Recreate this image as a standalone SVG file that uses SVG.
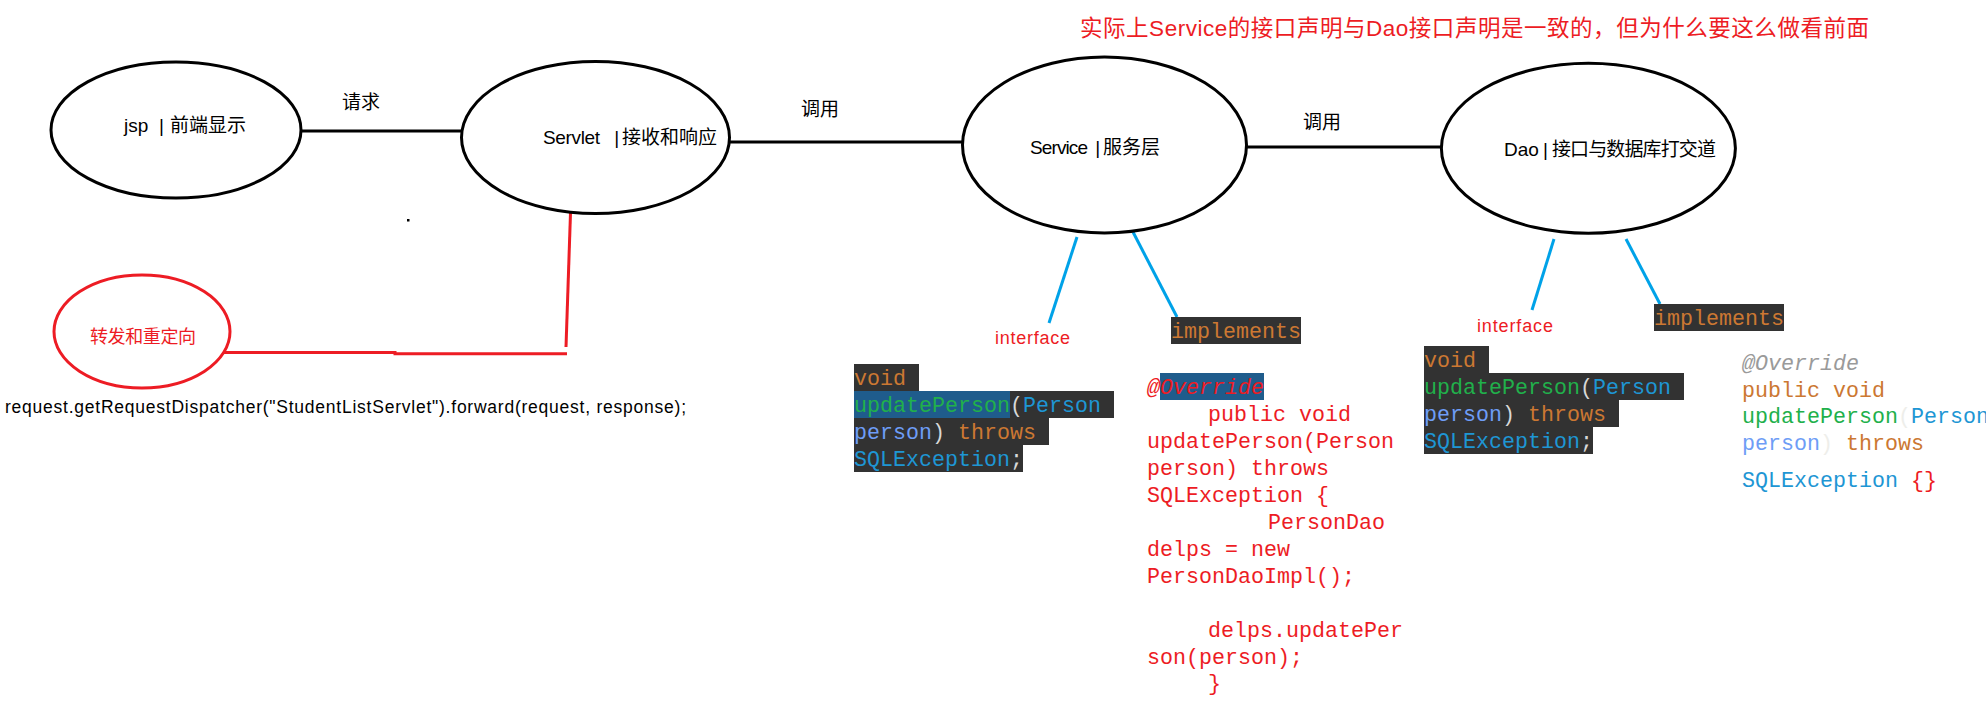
<svg xmlns="http://www.w3.org/2000/svg" width="1986" height="714" viewBox="0 0 1986 714">
<style>
.node{fill:none;stroke:#000;stroke-width:3}
.redn{fill:none;stroke:#ED1C24;stroke-width:3}
.lbl{font-family:"Liberation Sans","Noto Sans CJK SC",sans-serif;font-size:19px;fill:#000}
.rtxt{font-family:"Liberation Sans","Noto Sans CJK SC",sans-serif;font-size:18px;fill:#ED1C24}
.code{font-family:"Liberation Mono",monospace;font-size:21.67px}
.bg{fill:#323232}
.sel{fill:#1F5C8C}
.or{fill:#CC7832}
.gr{fill:#21B04B}
.bl{fill:#1E96D4}
.lb{fill:#6E9DF6}
.pu{fill:#D8D8D8}
.rd{fill:#ED1C24}
.gy{fill:#9A9A9A}
.fa{fill:#EEEEEA}
.conn{stroke:#000;stroke-width:3;fill:none}
.rconn{stroke:#ED1C24;stroke-width:3;fill:none}
.bconn{stroke:#00A2E8;stroke-width:3;fill:none}
</style>
<rect width="1986" height="714" fill="#fff"/>

<g id="connectors">
<line class="conn" x1="301" y1="131" x2="462" y2="131"/>
<line class="conn" x1="729" y1="142" x2="963" y2="142"/>
<line class="conn" x1="1247" y1="147" x2="1442" y2="147"/>
<line class="rconn" x1="570.5" y1="213" x2="566" y2="347"/>
<polyline class="rconn" points="224,352.5 395,352.5 395,353.8 567,353.8"/>
<line class="bconn" x1="1077" y1="237" x2="1049" y2="323"/>
<line class="bconn" x1="1133" y1="232" x2="1177" y2="317"/>
<line class="bconn" x1="1554" y1="239" x2="1532" y2="310"/>
<line class="bconn" x1="1626" y1="239" x2="1660" y2="304"/>
<text class="lbl" x="342" y="109" font-size="18">请求</text>
<text class="lbl" x="801" y="116" font-size="18">调用</text>
<text class="lbl" x="1303" y="129" font-size="18">调用</text>
<text class="rtxt" x="995" y="344" textLength="75">interface</text>
<text class="rtxt" x="1477" y="332" textLength="76">interface</text>
</g>

<g id="title">
<text x="1080" y="36" font-family="Liberation Sans,'Noto Sans CJK SC',sans-serif" font-size="22.5" fill="#ED1C24" textLength="789">实际上Service的接口声明与Dao接口声明是一致的，但为什么要这么做看前面</text>
</g>

<g id="jsp">
<ellipse class="node" cx="176" cy="130" rx="125" ry="68"/>
<text class="lbl" y="132" font-size="17.5"><tspan x="124">jsp </tspan><tspan x="159">| </tspan><tspan x="170">前端显示</tspan></text>
</g>

<g id="servlet">
<ellipse class="node" cx="595.5" cy="137.5" rx="134" ry="76"/>
<text class="lbl" y="144"><tspan x="543" textLength="57">Servlet</tspan><tspan x="609"> |</tspan><tspan x="622">接收和响应</tspan></text>
</g>

<g id="service">
<ellipse class="node" cx="1104.5" cy="145" rx="142" ry="88"/>
<text class="lbl" y="154"><tspan x="1030" textLength="58">Service</tspan><tspan x="1090"> | </tspan><tspan x="1103">服务层</tspan></text>
</g>

<g id="dao">
<ellipse class="node" cx="1588.4" cy="148.3" rx="147" ry="85"/>
<text class="lbl" y="156"><tspan x="1504">Dao </tspan><tspan x="1543">| </tspan><tspan x="1552" textLength="164">接口与数据库打交道</tspan></text>
</g>

<g id="forward">
<ellipse class="redn" cx="142" cy="331.5" rx="88" ry="56.5"/>
<text class="rtxt" x="90" y="343" textLength="106">转发和重定向</text>
</g>

<g id="dot">
<rect x="407" y="219" width="2.5" height="2.5" fill="#000"/>
</g>

<g id="forward-code">
<text x="5" y="413" font-family="Liberation Sans,sans-serif" font-size="17.5" fill="#000" textLength="681">request.getRequestDispatcher("StudentListServlet").forward(request, response);</text>
</g>

<g id="service-interface-code" class="code">
<rect class="bg" x="854" y="364" width="65" height="27"/>
<rect class="bg" x="854" y="391" width="260" height="27"/>
<rect class="bg" x="854" y="418" width="195" height="27"/>
<rect class="bg" x="854" y="445" width="169" height="27"/>
<rect class="sel" x="854" y="391" width="156" height="27"/>
<text x="854" y="385" xml:space="preserve"><tspan class="or">void</tspan></text>
<text x="854" y="412" xml:space="preserve"><tspan class="gr">updatePerson</tspan><tspan class="pu">(</tspan><tspan class="bl">Person</tspan></text>
<text x="854" y="439" xml:space="preserve"><tspan class="lb">person</tspan><tspan class="pu">) </tspan><tspan class="or">throws</tspan></text>
<text x="854" y="466" xml:space="preserve"><tspan class="bl">SQLException</tspan><tspan class="pu">;</tspan></text>
</g>

<g id="service-implements" class="code">
<rect class="bg" x="1171" y="317" width="130" height="27"/>
<text class="or" x="1171" y="338">implements</text>
</g>

<g id="service-impl-code" class="code">
<rect class="sel" x="1160" y="373" width="104" height="27"/>
<text class="rd" x="1147" y="394" font-style="italic">@Override</text>
<text class="rd" x="1208" y="421">public void</text>
<text class="rd" x="1147" y="448">updatePerson(Person</text>
<text class="rd" x="1147" y="475">person) throws</text>
<text class="rd" x="1147" y="502">SQLException {</text>
<text class="rd" x="1268" y="529">PersonDao</text>
<text class="rd" x="1147" y="556">delps = new</text>
<text class="rd" x="1147" y="583">PersonDaoImpl();</text>
<text class="rd" x="1208" y="637">delps.updatePer</text>
<text class="rd" x="1147" y="664">son(person);</text>
<text class="rd" x="1208" y="690">}</text>
</g>

<g id="dao-interface-code" class="code">
<rect class="bg" x="1424" y="346" width="65" height="27"/>
<rect class="bg" x="1424" y="373" width="260" height="27"/>
<rect class="bg" x="1424" y="400" width="195" height="27"/>
<rect class="bg" x="1424" y="427" width="169" height="27"/>
<text x="1424" y="367" xml:space="preserve"><tspan class="or">void</tspan></text>
<text x="1424" y="394" xml:space="preserve"><tspan class="gr">updatePerson</tspan><tspan class="pu">(</tspan><tspan class="bl">Person</tspan></text>
<text x="1424" y="421" xml:space="preserve"><tspan class="lb">person</tspan><tspan class="pu">) </tspan><tspan class="or">throws</tspan></text>
<text x="1424" y="448" xml:space="preserve"><tspan class="bl">SQLException</tspan><tspan class="pu">;</tspan></text>
</g>

<g id="dao-implements" class="code">
<rect class="bg" x="1654" y="304" width="130" height="27"/>
<text class="or" x="1654" y="325">implements</text>
</g>

<g id="dao-impl-code" class="code">
<text class="gy" x="1742" y="370" font-style="italic">@Override</text>
<text class="or" x="1742" y="397">public void</text>
<text x="1742" y="423" xml:space="preserve"><tspan class="gr">updatePerson</tspan><tspan class="fa">(</tspan><tspan class="bl">Person</tspan></text>
<text x="1742" y="450" xml:space="preserve"><tspan class="lb">person</tspan><tspan class="fa">) </tspan><tspan class="or">throws</tspan></text>
<text x="1742" y="487" xml:space="preserve"><tspan class="bl">SQLException </tspan><tspan class="rd">{}</tspan></text>
</g>
</svg>
